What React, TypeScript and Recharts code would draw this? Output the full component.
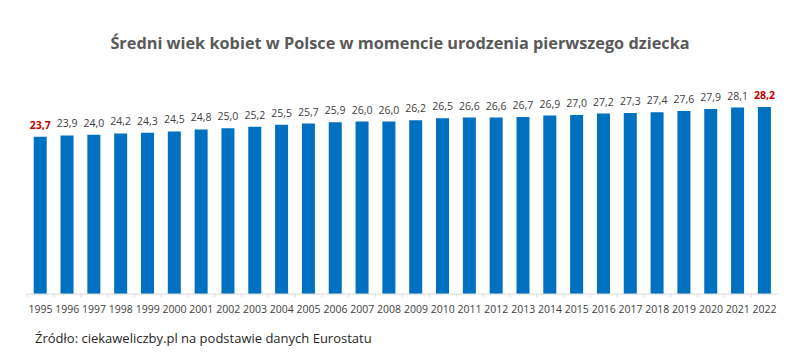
import React from 'react';
import { BarChart, Bar, XAxis, YAxis, LabelList } from 'recharts';

const years = ['1995','1996','1997','1998','1999','2000','2001','2002','2003','2004','2005','2006','2007','2008','2009','2010','2011','2012','2013','2014','2015','2016','2017','2018','2019','2020','2021','2022'];
const ages = [23.7,23.9,24.0,24.2,24.3,24.5,24.8,25.0,25.2,25.5,25.7,25.9,26.0,26.0,26.2,26.5,26.6,26.6,26.7,26.9,27.0,27.2,27.3,27.4,27.6,27.9,28.1,28.2];
const title = 'Średni wiek kobiet w Polsce w momencie urodzenia pierwszego dziecka';
const source = 'Źródło: ciekaweliczby.pl na podstawie danych Eurostatu';

const data = years.map((y, i) => ({ year: y, value: ages[i] }));
const FONT = '"Open Sans", "Noto Sans", sans-serif';

const ValueLabel = (props: any) => {
  const { x, y, width, value, index } = props;
  const highlight = index === 0 || index === years.length - 1;
  return (
    <text
      x={x + width / 2}
      y={y - 8}
      textAnchor="middle"
      fontFamily={FONT}
      fontSize={10.5}
      fontWeight={highlight ? 700 : 400}
      fill={highlight ? '#c00000' : '#404040'}
    >
      {Number(value).toFixed(1).replace('.', ',')}
    </text>
  );
};

const Tick = (props: any) => {
  const { x, y, payload } = props;
  const step = 26.8;
  return (
    <g>
      <line x1={x - step / 2} x2={x - step / 2} y1={y - 8} y2={y - 5} stroke="#d9d9d9" />
      <text x={x} y={y + 11} textAnchor="middle" fontFamily={FONT} fontSize={10.5} fill="#404040">
        {payload.value}
      </text>
    </g>
  );
};

export default function App() {
  return (
    <div style={{ position: 'absolute', left: 0, top: 0, width: 800, height: 363, background: '#fff' }}>
      <div style={{ position: 'absolute', left: 0, top: 32, width: 800, textAlign: 'center', fontFamily: FONT, fontWeight: 700, fontSize: 16.3, color: '#595959' }}>
        {title}
      </div>
      <BarChart
        width={800}
        height={363}
        data={data}
        margin={{ top: 95, right: 22, bottom: 0, left: 27 }}
        barCategoryGap="25%"
      >
        <YAxis hide domain={[0, 30]} />
        <XAxis
          dataKey="year"
          axisLine={{ stroke: '#d9d9d9' }}
          tickLine={false}
          tick={<Tick />}
          interval={0}
          height={69}
        />
        <Bar dataKey="value" fill="#0070c0" isAnimationActive={false}>
          <LabelList dataKey="value" content={<ValueLabel />} />
        </Bar>
      </BarChart>
      <div style={{ position: 'absolute', left: 35, top: 329, fontFamily: FONT, fontSize: 13, color: '#262626' }}>
        {source}
      </div>
    </div>
  );
}
